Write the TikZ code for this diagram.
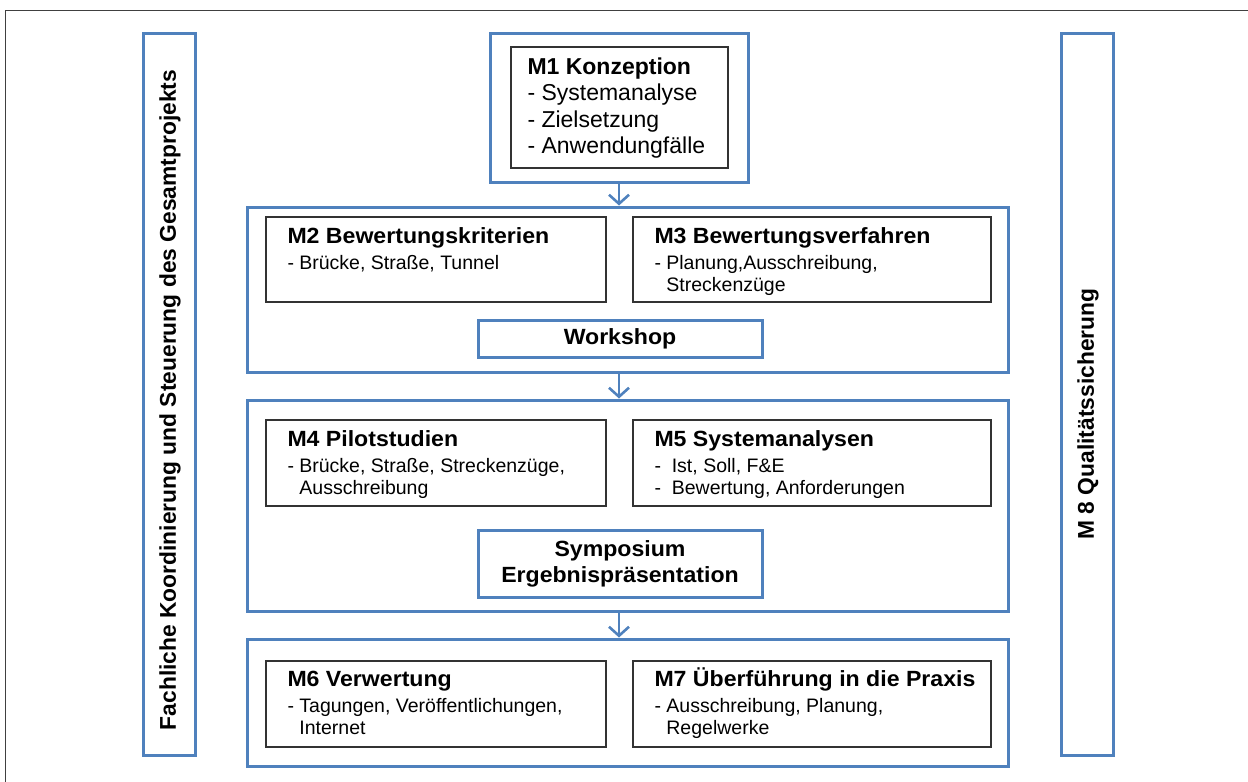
\documentclass[tikz,border=0pt]{standalone}
\usepackage{fontspec}
\setmainfont{Liberation Sans}
\newfontfamily\widesans{Liberation Sans}[FakeStretch=1.05]
\usetikzlibrary{arrows.meta,positioning}

\definecolor{boxblue}{RGB}{79,129,189}
\definecolor{framegray}{RGB}{64,64,64}

\newcommand{\titlefont}{\fontsize{22}{26}\selectfont\widesans\bfseries}
\newcommand{\bodyfont}{\fontsize{19.5}{22}\selectfont}
\newcommand{\sidefont}{\fontsize{22.8}{26}\selectfont\bfseries}
\newcommand{\indentdash}{\hphantom{-\ }}
\newcommand{\titlestrut}{\rule{0pt}{21pt}}

\tikzset{
  bluebox/.style={draw=boxblue, line width=3pt, fill=white, inner sep=0pt},
  mbox/.style={draw=black!80, line width=1.4pt, inner sep=0pt},
  mtext/.style={anchor=north west, inner sep=0pt, align=left, font=\bodyfont},
  sidetext/.style={rotate=90, inner sep=0pt, font=\sidefont},
  flow/.style={draw=boxblue, line width=2.6pt, -{Straight Barb[length=9pt,width=20pt]}},
}

\begin{document}
\begin{tikzpicture}[x=1pt, y=-1pt]
  \useasboundingbox (0,0) rectangle (1248,782);
  \draw[framegray, line width=1.4pt] (5.5,782) -- (5.5,10.5) -- (1248,10.5);

  % side columns
  \node[bluebox, minimum width=52pt, minimum height=722pt] (koord) at (169,394) {};
  \node[sidetext] (koordtxt) at (170,400) {Fachliche Koordinierung und Steuerung des Gesamtprojekts};
  \node[bluebox, minimum width=52pt, minimum height=722pt] (qs) at (1087,394) {};
  \node[sidetext] (qstxt) at (1088,414) {M 8 Qualitätssicherung};

  % M1
  \node[bluebox, minimum width=258pt, minimum height=149pt] (m1out) at (619,107.5) {};
  \node[mbox, minimum width=217pt, minimum height=121pt] (m1in) at (619.5,107.5) {};
  \node[mtext, font=\fontsize{23}{26.5}\selectfont] (m1txt) at ([shift={(17,11)}]m1in.north west)
    {\textbf{M1 Konzeption}\\- Systemanalyse\\- Zielsetzung\\- Anwendungfälle};

  % block M2/M3
  \node[bluebox, minimum width=761pt, minimum height=165pt] (b2) at (627.5,289.5) {};
  \node[mbox, minimum width=340pt, minimum height=85pt] (m2) at (436,259.5) {};
  \node[mbox, minimum width=358pt, minimum height=85pt] (m3) at (812,259.5) {};
  \node[mtext] (m2txt) at ([shift={(22,6)}]m2.north west)
    {{\titlefont\titlestrut M2 Bewertungskriterien}\\[4pt]- Brücke, Straße, Tunnel};
  \node[mtext] (m3txt) at ([shift={(22,6)}]m3.north west)
    {{\titlefont\titlestrut M3 Bewertungsverfahren}\\[4pt]- Planung,Ausschreibung,\\\indentdash Streckenzüge};
  \node[bluebox, minimum width=284pt, minimum height=37pt] (ws) at (620,338.5) {};
  \node[font=\titlefont, inner sep=0pt] (wstxt) at (ws.center) {Workshop};

  % block M4/M5
  \node[bluebox, minimum width=761pt, minimum height=211pt] (b3) at (627.5,505.5) {};
  \node[mbox, minimum width=340pt, minimum height=86pt] (m4) at (436,463) {};
  \node[mbox, minimum width=358pt, minimum height=86pt] (m5) at (812,463) {};
  \node[mtext] (m4txt) at ([shift={(22,6)}]m4.north west)
    {{\titlefont\titlestrut M4 Pilotstudien}\\[4pt]- Brücke, Straße, Streckenzüge,\\\indentdash Ausschreibung};
  \node[mtext] (m5txt) at ([shift={(22,6)}]m5.north west)
    {{\titlefont\titlestrut M5 Systemanalysen}\\[4pt]-~~Ist, Soll, F\&E\\-~~Bewertung, Anforderungen};
  \node[bluebox, minimum width=284pt, minimum height=67pt] (sym) at (620,563.5) {};
  \node[font=\titlefont, align=center, inner sep=0pt] (symtxt) at (sym.center)
    {Symposium\\Ergebnispräsentation};

  % block M6/M7
  \node[bluebox, minimum width=761pt, minimum height=127pt] (b4) at (627.5,702.5) {};
  \node[mbox, minimum width=340pt, minimum height=86pt] (m6) at (436,704) {};
  \node[mbox, minimum width=358pt, minimum height=86pt] (m7) at (812,704) {};
  \node[mtext] (m6txt) at ([shift={(22,5)}]m6.north west)
    {{\titlefont\titlestrut M6 Verwertung}\\[4pt]- Tagungen, Veröffentlichungen,\\\indentdash Internet};
  \node[mtext] (m7txt) at ([shift={(22,5)}]m7.north west)
    {{\titlefont\titlestrut M7 Überführung in die Praxis}\\[4pt]- Ausschreibung, Planung,\\\indentdash Regelwerke};

  % arrows
  \draw[flow] (m1out.south) -- (m1out.south |- b2.north);
  \draw[flow] (b2.south -| m1out.south) -- (b3.north -| m1out.south);
  \draw[flow] (b3.south -| m1out.south) -- (b4.north -| m1out.south);
\end{tikzpicture}
\end{document}
